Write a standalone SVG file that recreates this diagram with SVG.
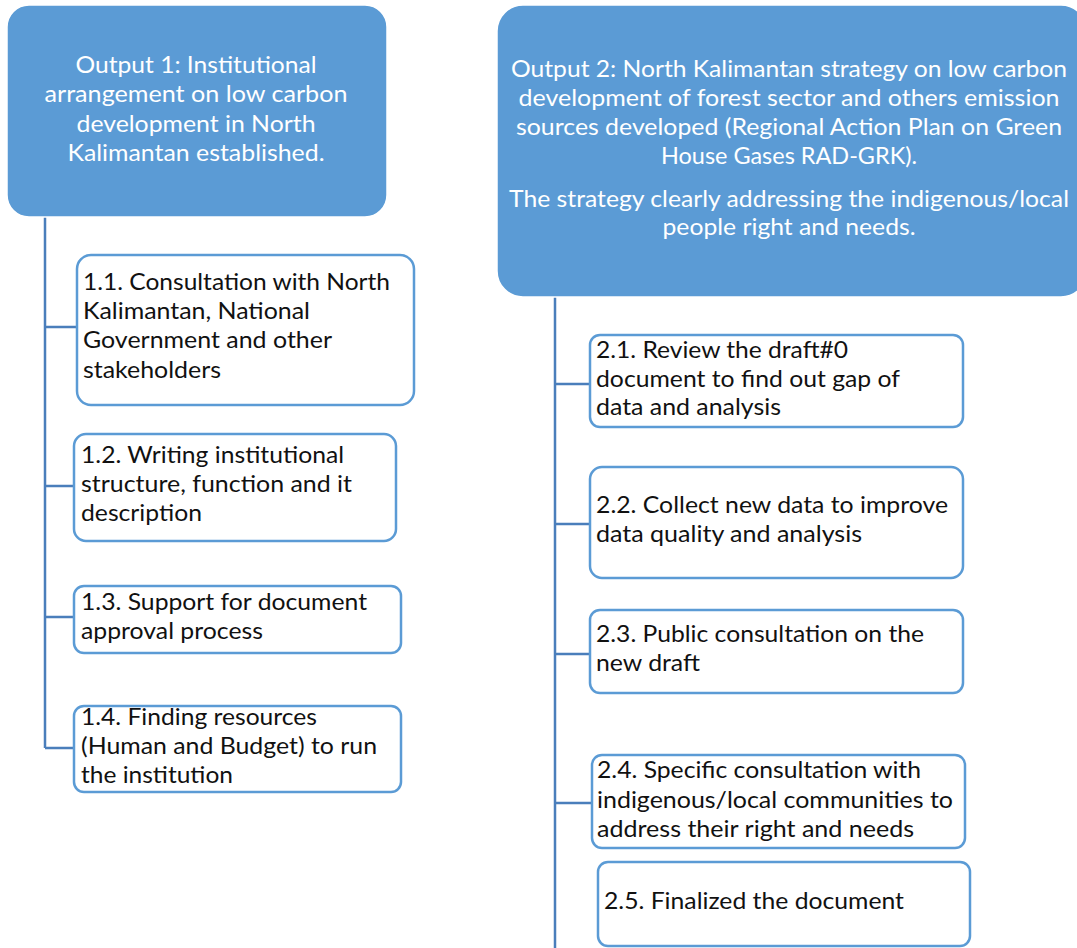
<svg xmlns="http://www.w3.org/2000/svg" width="1077" height="948" viewBox="0 0 1077 948">
<style>
.bg{fill:#ffffff}
.head{fill:#5B9BD5;stroke:#ffffff;stroke-width:1.5}
.task{fill:#ffffff;stroke:#5B9BD5;stroke-width:2.5}
.conn{stroke:#4A7EBB;stroke-width:2.5;fill:none}
text{font-family:Lato,"Open Sans","Liberation Sans",sans-serif;font-size:22.5px}
.ht{fill:#ffffff;text-anchor:middle}
.tt{fill:#111111}
</style>
<rect class="bg" x="0" y="0" width="1077" height="948"/>
<g id="connectors">
<path class="conn" d="M45,217 V748 M45,327 H77 M45,486 H74 M45,617 H74 M45,748 H74"/>
<path class="conn" d="M555,297 V948 M555,384 H590 M555,524 H590 M555,654 H590 M555,803 H592"/>
</g>
<g id="output1">
<rect class="head" x="7" y="5" width="380" height="212" rx="22"/>
<text class="ht" x="196" y="73" textLength="241" lengthAdjust="spacingAndGlyphs">Output 1: Institutional</text>
<text class="ht" x="196" y="102" textLength="303" lengthAdjust="spacingAndGlyphs">arrangement on low carbon</text>
<text class="ht" x="196" y="132" textLength="239" lengthAdjust="spacingAndGlyphs">development in North</text>
<text class="ht" x="196" y="161" textLength="257" lengthAdjust="spacingAndGlyphs">Kalimantan established.</text>
</g>
<g id="task1-1">
<rect class="task" x="77" y="255" width="337" height="150" rx="14"/>
<text class="tt" x="83" y="290" textLength="307" lengthAdjust="spacingAndGlyphs">1.1. Consultation with North</text>
<text class="tt" x="83" y="319" textLength="227" lengthAdjust="spacingAndGlyphs">Kalimantan, National</text>
<text class="tt" x="83" y="348" textLength="249" lengthAdjust="spacingAndGlyphs">Government and other</text>
<text class="tt" x="83" y="378" textLength="138" lengthAdjust="spacingAndGlyphs">stakeholders</text>
</g>
<g id="task1-2">
<rect class="task" x="74" y="434" width="322" height="107" rx="12"/>
<text class="tt" x="81" y="463" textLength="263" lengthAdjust="spacingAndGlyphs">1.2. Writing institutional</text>
<text class="tt" x="81" y="492" textLength="271" lengthAdjust="spacingAndGlyphs">structure, function and it</text>
<text class="tt" x="81" y="521" textLength="121" lengthAdjust="spacingAndGlyphs">description</text>
</g>
<g id="task1-3">
<rect class="task" x="74" y="586" width="327" height="67" rx="10"/>
<text class="tt" x="81" y="610" textLength="286" lengthAdjust="spacingAndGlyphs">1.3. Support for document</text>
<text class="tt" x="81" y="639" textLength="182" lengthAdjust="spacingAndGlyphs">approval process</text>
</g>
<g id="task1-4">
<rect class="task" x="74" y="706" width="327" height="86" rx="10"/>
<text class="tt" x="81" y="725" textLength="236" lengthAdjust="spacingAndGlyphs">1.4. Finding resources</text>
<text class="tt" x="81" y="754" textLength="296" lengthAdjust="spacingAndGlyphs">(Human and Budget) to run</text>
<text class="tt" x="81" y="783" textLength="152" lengthAdjust="spacingAndGlyphs">the institution</text>
</g>
<g id="output2">
<rect class="head" x="497" y="5" width="590" height="292" rx="26"/>
<text class="ht" x="789" y="77" textLength="556" lengthAdjust="spacingAndGlyphs">Output 2: North Kalimantan strategy on low carbon</text>
<text class="ht" x="789" y="106" textLength="541" lengthAdjust="spacingAndGlyphs">development of forest sector and others emission</text>
<text class="ht" x="789" y="135" textLength="546" lengthAdjust="spacingAndGlyphs">sources developed (Regional Action Plan on Green</text>
<text class="ht" x="789" y="164" textLength="256" lengthAdjust="spacingAndGlyphs">House Gases RAD-GRK).</text>
<text class="ht" x="789" y="207" textLength="560" lengthAdjust="spacingAndGlyphs">The strategy clearly addressing the indigenous/local</text>
<text class="ht" x="789" y="235" textLength="253" lengthAdjust="spacingAndGlyphs">people right and needs.</text>
</g>
<g id="task2-1">
<rect class="task" x="590" y="335" width="373" height="92" rx="10"/>
<text class="tt" x="596" y="358" textLength="252" lengthAdjust="spacingAndGlyphs">2.1. Review the draft#0</text>
<text class="tt" x="596" y="387" textLength="304" lengthAdjust="spacingAndGlyphs">document to find out gap of</text>
<text class="tt" x="596" y="415" textLength="185" lengthAdjust="spacingAndGlyphs">data and analysis</text>
</g>
<g id="task2-2">
<rect class="task" x="590" y="467" width="373" height="111" rx="12"/>
<text class="tt" x="596" y="513" textLength="352" lengthAdjust="spacingAndGlyphs">2.2. Collect new data to improve</text>
<text class="tt" x="596" y="542" textLength="266" lengthAdjust="spacingAndGlyphs">data quality and analysis</text>
</g>
<g id="task2-3">
<rect class="task" x="590" y="610" width="373" height="83" rx="10"/>
<text class="tt" x="596" y="642" textLength="328" lengthAdjust="spacingAndGlyphs">2.3. Public consultation on the</text>
<text class="tt" x="596" y="671" textLength="104" lengthAdjust="spacingAndGlyphs">new draft</text>
</g>
<g id="task2-4">
<rect class="task" x="592" y="755" width="373" height="93" rx="10"/>
<text class="tt" x="597" y="778" textLength="324" lengthAdjust="spacingAndGlyphs">2.4. Specific consultation with</text>
<text class="tt" x="597" y="808" textLength="356" lengthAdjust="spacingAndGlyphs">indigenous/local communities to</text>
<text class="tt" x="597" y="837" textLength="317" lengthAdjust="spacingAndGlyphs">address their right and needs</text>
</g>
<g id="task2-5">
<rect class="task" x="598" y="862" width="372" height="84" rx="10"/>
<text class="tt" x="604" y="909" textLength="300" lengthAdjust="spacingAndGlyphs">2.5. Finalized the document</text>
</g>
</svg>
